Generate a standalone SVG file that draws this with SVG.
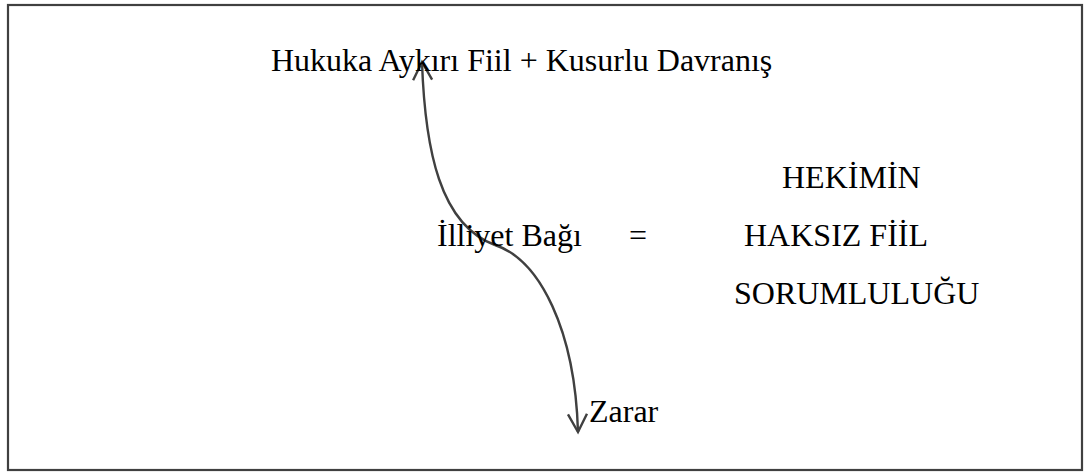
<svg xmlns="http://www.w3.org/2000/svg" width="1084" height="472" viewBox="0 0 1084 472">
  <style>
    .frame { fill: #ffffff; stroke: #404040; stroke-width: 2.2; }
    .label { font-family: "Liberation Serif", "Times New Roman", serif; font-size: 32px; fill: #000000; }
    .link { fill: none; stroke: #404040; stroke-width: 2.4; }
  </style>
  <defs>
    <!-- open V arrowhead -->
    <marker id="openHead" markerUnits="userSpaceOnUse" markerWidth="30" markerHeight="30"
            viewBox="-20 -15 30 30" refX="0" refY="0" orient="auto-start-reverse">
      <path d="M-18,-9.5 L0,0 L-18,9.5" fill="none" stroke="#404040" stroke-width="2.4" stroke-linejoin="miter"/>
    </marker>
  </defs>

  <rect class="frame" x="8" y="5" width="1074" height="465"/>

  <g id="connectors">
    <path class="link" d="M422,62 C425,150 440,225 495,245" marker-start="url(#openHead)"/>
    <path class="link" d="M495,245 C540,260 575,330 578,432" marker-end="url(#openHead)"/>
  </g>

  <g id="node-cause">
    <text class="label" x="271" y="71">Hukuka Aykırı Fiil + Kusurlu Davranış</text>
  </g>
  <g id="node-link">
    <text class="label" x="437" y="246">İlliyet Bağı</text>
  </g>
  <g id="node-equals">
    <text class="label" x="629" y="246">=</text>
  </g>
  <g id="node-result">
    <text class="label" x="782" y="188">HEKİMİN</text>
    <text class="label" x="744" y="246">HAKSIZ FİİL</text>
    <text class="label" x="734" y="304">SORUMLULUĞU</text>
  </g>
  <g id="node-damage">
    <text class="label" x="589" y="422">Zarar</text>
  </g>
</svg>
